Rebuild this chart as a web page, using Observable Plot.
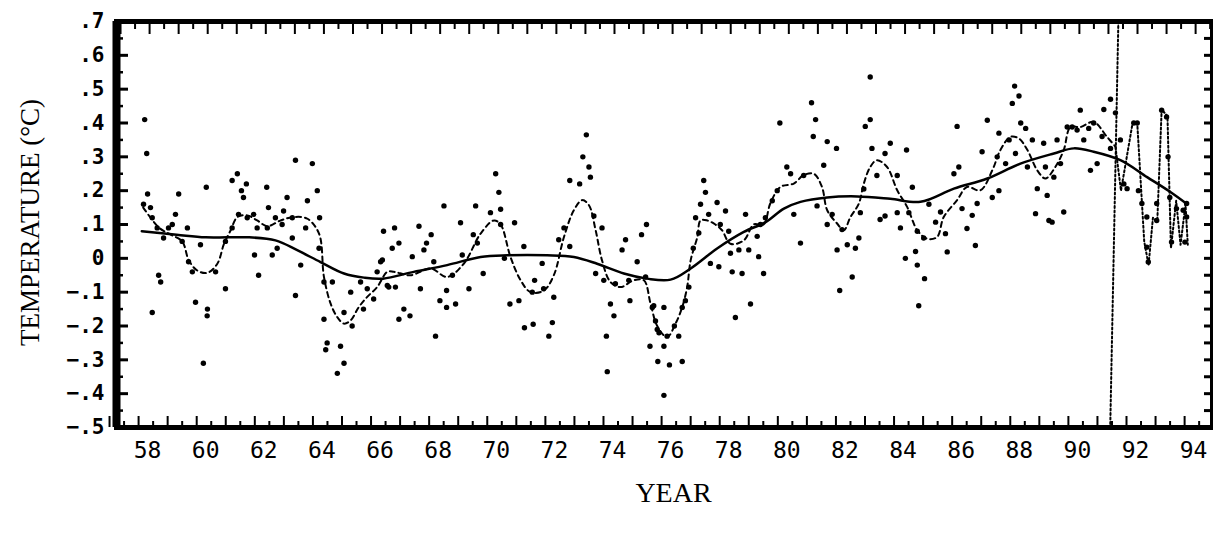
<!DOCTYPE html>
<html>
<head>
<meta charset="utf-8">
<script src="https://cdn.jsdelivr.net/npm/d3@7"></script>
<script src="https://cdn.jsdelivr.net/npm/@observablehq/plot@0.6"></script>
<style>
  html, body { margin: 0; padding: 0; background: #fff; overflow: hidden; }
  #chart svg { display: block; }
</style>
</head>
<body>
<div id="chart"></div>
<script>
// ---- data (year = 19xx, value in °C) ----
const pointYear = [
57.9,57.97,58.0,57.86,58.1,58.16,58.33,58.38,58.45,58.16,58.55,58.72,58.85,58.96,59.07,59.37,59.19,59.41,59.54,59.82,59.65,60.06,60.05,59.92,60.02,60.34,60.68,60.68,60.91,60.91,
61.09,61.23,61.3,61.4,61.13,61.43,61.65,61.68,61.82,61.77,62.1,62.16,62.12,62.29,62.46,62.4,62.63,62.68,62.8,63.09,62.98,62.98,63.09,63.44,63.5,63.67,63.84,63.92,63.27,63.9,
64.07,64.07,64.18,64.13,64.36,64.64,64.53,64.76,64.76,65.04,64.99,65.43,65.56,65.78,65.9,66.02,66.12,66.25,65.33,
66.5,66.42,66.65,66.08,66.3,66.53,66.82,66.65,67.03,67.11,67.34,67.51,67.6,67.76,67.39,67.85,67.91,68.06,68.29,68.29,68.6,68.2,68.49,68.77,68.83,69.06,69.29,69.21,69.55,69.35,
69.8,69.98,70.09,70.15,70.15,70.28,70.47,70.63,70.78,70.95,70.97,71.27,71.32,71.24,71.58,71.63,71.81,71.93,71.98,72.15,72.33,72.53,72.87,72.53,72.98,73.1,73.19,73.24,73.36,73.64,
73.42,73.7,73.93,74.05,73.79,73.82,74.33,74.45,74.1,74.6,74.85,75.0,75.17,75.14,74.56,75.42,75.54,75.29,75.56,
75.37,75.77,75.48,75.6,75.77,75.88,75.96,76.4,75.77,76.13,76.28,76.4,76.51,76.63,76.78,76.86,77.03,77.2,77.14,76.97,77.31,77.37,77.66,77.6,77.71,77.89,78.0,78.06,78.12,78.23,
78.35,78.46,78.58,78.69,78.75,79.03,79.2,78.98,79.09,79.26,79.76,79.5,79.67,80.0,80.13,80.24,80.47,80.58,80.85,80.99,80.91,81.04,81.27,81.39,81.71,81.39,81.56,81.73,81.9,81.82,
82.08,82.25,82.36,82.48,82.53,82.65,82.7,82.87,82.87,82.93,83.1,83.21,83.38,83.38,83.56,83.8,83.91,83.8,84.12,84.32,84.08,84.43,84.49,84.74,84.54,84.2,84.49,84.71,84.89,
85.29,85.12,85.46,85.52,85.75,85.92,85.86,86.03,86.2,86.38,86.49,86.55,86.72,86.9,87.07,87.3,87.24,87.3,87.53,87.65,87.87,87.76,87.84,87.99,88.05,88.22,88.28,88.45,88.62,88.56,
88.84,88.9,88.96,89.02,89.13,89.19,89.3,89.42,89.53,89.65,89.82,89.99,90.1,90.22,90.39,90.56,90.45,90.68,90.85,90.91,91.14,91.31,91.14,91.48,91.6,91.71,91.94,92.06,92.1,92.22,
92.39,92.39,92.44,92.73,92.73,92.9,93.07,93.12,93.18,93.41,93.24,93.64,93.76,93.7,93.76
];
const pointTemp = [
0.41,0.31,0.19,0.16,0.15,0.12,0.09,-0.05,-0.07,-0.16,0.06,0.09,0.10,0.13,0.19,0.09,0.05,-0.01,-0.04,0.04,-0.13,-0.15,-0.17,-0.31,0.21,-0.04,-0.09,0.05,0.09,0.23,
0.25,0.20,0.18,0.22,0.13,0.12,0.13,0.01,-0.05,0.09,0.21,0.15,0.09,0.01,0.03,0.12,0.10,0.14,0.18,0.29,0.06,0.12,-0.11,0.09,0.17,0.28,0.20,0.12,-0.02,0.03,
-0.07,-0.18,-0.25,-0.27,-0.07,-0.26,-0.34,-0.31,-0.16,-0.20,-0.10,-0.15,-0.09,-0.12,-0.04,-0.01,0.08,-0.08,-0.07,
0.09,0.03,0.045,-0.005,-0.085,-0.085,-0.15,-0.18,-0.17,0.005,0.095,0.025,0.045,0.07,-0.09,-0.01,-0.23,-0.125,-0.095,-0.145,-0.135,0.155,-0.05,0.105,0.01,-0.09,0.155,0.07,-0.045,0.045,
0.135,0.25,0.195,0.145,0.10,0.0,-0.135,0.105,-0.125,0.035,-0.205,-0.195,-0.065,-0.10,-0.015,-0.09,-0.23,-0.19,-0.115,0.055,0.09,0.23,0.22,0.035,0.30,0.365,0.27,0.24,0.125,0.09,
-0.045,-0.065,-0.135,-0.17,-0.23,-0.335,0.025,0.055,-0.075,-0.125,-0.01,0.07,0.10,-0.055,-0.065,-0.14,-0.21,-0.26,-0.305,
-0.145,-0.145,-0.185,-0.22,-0.26,-0.23,-0.315,-0.305,-0.405,-0.20,-0.23,-0.145,-0.125,-0.085,0.03,0.12,0.16,0.195,0.23,0.075,0.13,-0.015,-0.025,0.165,0.10,0.14,0.08,0.015,-0.04,-0.175,
0.025,-0.045,0.13,0.025,-0.135,0.005,-0.045,0.065,0.10,0.12,0.40,0.17,0.20,0.27,0.25,0.13,0.045,0.245,0.46,0.41,0.36,0.155,0.275,0.345,0.325,0.10,0.13,0.025,0.085,-0.095,
0.04,-0.055,0.03,0.06,0.135,0.205,0.39,0.41,0.536,0.325,0.245,0.115,0.125,0.31,0.34,0.245,0.09,0.135,0.32,0.21,0.0,0.02,-0.02,-0.06,-0.14,0.135,0.08,0.06,0.16,
0.137,0.107,0.073,0.019,0.25,0.27,0.39,0.147,0.088,0.127,0.038,0.162,0.315,0.408,0.18,0.20,0.30,0.37,0.28,0.35,0.31,0.458,0.509,0.48,0.40,0.384,0.27,0.35,0.206,0.132,
0.34,0.27,0.186,0.112,0.107,0.24,0.35,0.28,0.137,0.388,0.388,0.379,0.438,0.35,0.384,0.40,0.26,0.28,0.36,0.44,0.47,0.43,0.325,0.35,0.22,0.206,0.40,0.40,0.20,0.162,
0.122,0.033,-0.011,0.112,0.162,0.438,0.418,0.30,0.18,0.147,0.048,0.142,0.122,0.048,0.162
];

// long-term smooth (solid)
const trendYear = [57.8,59.0,60.0,61.5,62.4,63.15,63.95,64.76,65.45,66.1,67.16,68.31,69.46,70.38,71.75,72.67,73.47,74.39,75.19,76.0,76.69,77.6,78.52,79.27,79.9,80.47,81.39,82.42,83.56,84.6,85.75,86.9,88.04,89.19,89.88,90.56,91.48,92.4,93.2,93.78];
const trendTemp = [0.08,0.07,0.062,0.062,0.053,0.024,-0.011,-0.045,-0.057,-0.06,-0.04,-0.02,0.004,0.009,0.009,0.004,-0.016,-0.045,-0.06,-0.063,-0.03,0.029,0.078,0.107,0.147,0.167,0.18,0.183,0.176,0.167,0.206,0.236,0.28,0.31,0.325,0.315,0.29,0.24,0.196,0.16];

// shorter-period smooth (dashed)
const fastYear = [57.85,58.4,58.8,59.19,59.42,59.71,60.05,60.4,60.63,60.86,61.09,61.43,61.77,62.12,62.58,63.03,63.5,63.9,64.07,64.3,64.53,64.76,64.99,65.27,65.56,65.9,66.25,66.48,67.05,67.74,68.31,68.88,69.46,69.92,70.15,70.49,70.84,71.18,71.64,71.98,72.33,72.67,72.96,73.19,73.42,73.64,73.93,74.28,74.73,75.08,75.31,75.54,75.88,76.17,76.4,76.57,76.69,76.92,77.03,77.26,77.54,77.77,78.06,78.52,78.86,79.2,79.43,79.78,80.24,80.58,80.93,81.21,81.39,81.73,81.96,82.19,82.48,82.65,82.87,83.1,83.45,83.8,84.14,84.49,84.83,85.17,85.4,85.86,86.2,86.66,87.07,87.35,87.7,87.99,88.28,88.62,88.9,89.24,89.53,89.76,90.1,90.56,91.02,91.31];
const fastTemp = [0.15,0.09,0.07,0.05,-0.006,-0.036,-0.043,-0.016,0.043,0.083,0.122,0.127,0.112,0.095,0.112,0.122,0.117,0.073,-0.055,-0.134,-0.174,-0.193,-0.183,-0.144,-0.114,-0.085,-0.04,-0.04,-0.05,-0.03,-0.055,-0.016,0.073,0.112,0.10,0.004,-0.065,-0.1,-0.095,-0.05,0.063,0.142,0.172,0.157,0.083,-0.006,-0.07,-0.085,-0.065,-0.065,-0.134,-0.2,-0.233,-0.193,-0.144,-0.085,-0.006,0.063,0.112,0.112,0.1,0.083,0.043,0.053,0.1,0.1,0.162,0.211,0.221,0.246,0.25,0.211,0.142,0.103,0.083,0.122,0.162,0.221,0.27,0.29,0.27,0.201,0.152,0.083,0.058,0.063,0.122,0.172,0.211,0.201,0.26,0.32,0.359,0.354,0.32,0.26,0.236,0.27,0.32,0.388,0.388,0.403,0.359,0.33];

// post-1991 dotted trace
const postYear = [91.31,91.5,91.9,92.06,92.3,92.45,92.6,92.75,92.9,93.1,93.22,93.4,93.55,93.72,93.8];
const postTemp = [0.33,0.2,0.40,0.40,0.05,-0.02,0.12,0.11,0.44,0.42,0.03,0.17,0.04,0.16,0.04];

// dotted vertical marker (1991)
const markerYear = [91.41, 91.13];
const markerTemp = [0.7, -0.5];

// axes
const xLabelYears = [58,60,62,64,66,68,70,72,74,76,78,80,82,84,86,88,90,92,94];
const yLabelValues = [-0.5,-0.4,-0.3,-0.2,-0.1,0,0.1,0.2,0.3,0.4,0.5,0.6,0.7];
const xMajorTicks = d3.range(57, 95, 1);
const xMinorTicks = d3.range(57.5, 95, 1);
const yMinorTicks = [-0.45,-0.35,-0.25,-0.15,-0.05,0.05,0.15,0.25,0.35,0.45,0.55,0.65];

// ---- layout ----
const W = 1213, H = 533;
const mL = 116, mR = 1, mT = 21, mB = 106;
const fw = W - mL - mR, fh = H - mT - mB;
const xDomain = [56.93, 94.65];

const pts = pointYear.map((x, i) => ({x, y: pointTemp[i]}));
const trend = trendYear.map((x, i) => ({x, y: trendTemp[i]}));
const fast = fastYear.map((x, i) => ({x, y: fastTemp[i]}));
const post = postYear.map((x, i) => ({x, y: postTemp[i]}));
const marker = markerYear.map((x, i) => ({x, y: markerTemp[i]}));

const fmtY = d => d === 0 ? "0" : d3.format(".1f")(d).replace("0.", ".");

const chart = Plot.plot({
  width: W, height: H,
  marginLeft: mL, marginRight: mR, marginTop: mT, marginBottom: mB,
  style: {background: "#fff", color: "#000"},
  x: {domain: xDomain, axis: null},
  y: {domain: [-0.5, 0.7], axis: null},
  marks: [
    // x tick labels
    Plot.axisX({anchor: "bottom", label: null, ticks: xLabelYears, tickSize: 0, tickPadding: 14,
      tickFormat: d => String(d), fontSize: 23, fontFamily: "DejaVu Sans Mono", fill: "#000"}),
    // y tick labels
    Plot.axisY({anchor: "left", label: null, ticks: yLabelValues, tickSize: 0, tickPadding: 12,
      tickFormat: fmtY, fontSize: 21, fontWeight: "bold", fontFamily: "DejaVu Sans Mono", fill: "#000"}),
    // bottom ticks (pointing up)
    Plot.ruleX(xMajorTicks, {x: d => d, insetTop: fh - 11, dx: -9, strokeWidth: 2}),
    Plot.ruleX(xMinorTicks, {x: d => d, insetTop: fh - 6, dx: -9, strokeWidth: 2}),
    // top ticks (pointing down)
    Plot.ruleX(xMajorTicks, {x: d => d, insetBottom: fh - 13, dx: 2, strokeWidth: 2}),
    Plot.ruleX(xMinorTicks, {x: d => d, insetBottom: fh - 8, dx: 2, strokeWidth: 2}),
    // left ticks (pointing right)
    Plot.ruleY(yLabelValues, {y: d => d, insetRight: fw - 12, strokeWidth: 3}),
    Plot.ruleY(yMinorTicks, {y: d => d, insetRight: fw - 7, strokeWidth: 2.5}),
    // right ticks (pointing left)
    Plot.ruleY(yLabelValues.concat(yMinorTicks), {y: d => d, insetLeft: fw - 8, strokeWidth: 3}),
    // frame
    Plot.frame({stroke: "#000", strokeWidth: 5}),
    Plot.ruleX([xDomain[0]], {strokeWidth: 8}),
    // 1991 marker
    Plot.line(marker, {x: "x", y: "y", stroke: "#000", strokeWidth: 2, strokeDasharray: "2,2.5"}),
    // series
    Plot.line(fast, {x: "x", y: "y", stroke: "#000", strokeWidth: 2, strokeDasharray: "5,4", curve: "catmull-rom"}),
    Plot.line(post, {x: "x", y: "y", stroke: "#000", strokeWidth: 2, strokeDasharray: "2,2.5"}),
    Plot.line(trend, {x: "x", y: "y", stroke: "#000", strokeWidth: 2.5, curve: "catmull-rom"}),
    Plot.dot(pts, {x: "x", y: "y", r: 2.7, fill: "#000", stroke: "none"}),
    // axis titles
    Plot.text(["TEMPERATURE (\u00B0C)"], {text: d => d, frameAnchor: "left", textAnchor: "middle", lineAnchor: "middle",
      dx: -86, dy: -2, rotate: -90, fontFamily: "Liberation Serif", fontSize: 27, fill: "#000"}),
    Plot.text(["YEAR"], {text: d => d, frameAnchor: "bottom", dx: 9, dy: 74,
      fontFamily: "Liberation Serif", fontSize: 28, fill: "#000"})
  ]
});
document.getElementById("chart").appendChild(chart);
</script>
</body>
</html>
